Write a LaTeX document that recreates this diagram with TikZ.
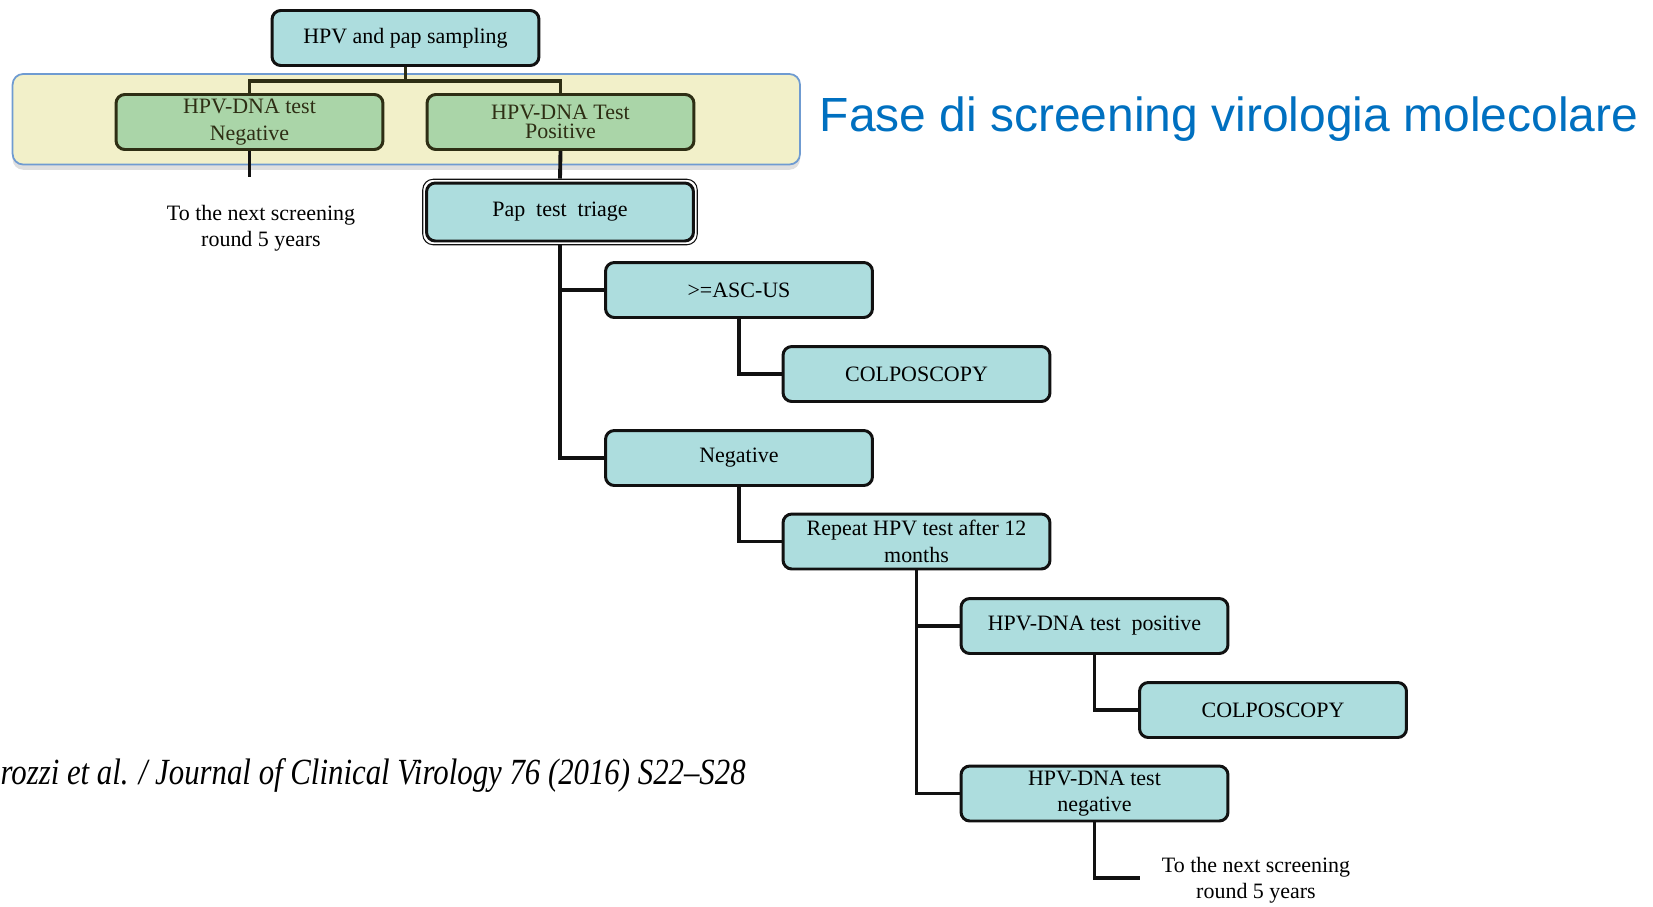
\documentclass[tikz,border=0pt]{standalone}
\usepackage{fontspec}
\setmainfont{Liberation Serif}
\newfontfamily\headfont{Liberation Sans}
\newfontfamily\citefont[FakeStretch=0.835]{Liberation Serif}
\usetikzlibrary{shadows,fit}
\definecolor{ink}{HTML}{111111}
\definecolor{olive}{HTML}{2E2E14}
\definecolor{boxcyan}{HTML}{ADDDDE}
\definecolor{boxgreen}{HTML}{AAD5A8}
\definecolor{panelyellow}{HTML}{F2F0C9}
\definecolor{panelblue}{HTML}{6F9BD1}
\definecolor{titleblue}{HTML}{0070C0}
\tikzset{
  cyanbox/.style={draw=ink,fill=boxcyan,line width=1.7pt,rounded corners=5pt,
                  align=center,inner sep=2pt,minimum width=5.34cm,
                  minimum height=1.1cm,font=\fontsize{12.5}{15}\selectfont},
  greenbox/.style={cyanbox,draw=olive,fill=boxgreen,text=olive},
  panel/.style={draw=panelblue,fill=panelyellow,line width=1pt,
                rounded corners=6pt,
                drop shadow={shadow xshift=0pt,shadow yshift=-3pt,opacity=0.25}},
  tree/.style={line width=2.2pt,draw=ink},
  olivetree/.style={tree,draw=olive},
  note/.style={align=center,font=\fontsize{12.5}{15}\selectfont}
}

\begin{document}
\begin{tikzpicture}[x=0.02cm,y=-0.02cm]
    \useasboundingbox (0,0) rectangle (1653,906);

    % first round: HPV test
    \draw[panel] (12.6,74) rectangle (800,164.5);
    \node[cyanbox] (sampling) at (405.5,38) {HPV and pap sampling};
    \node[greenbox] (dnaneg) at (249.5,122) {HPV-DNA test\\Negative};
    \node[greenbox] (dnapos) at (560.5,122) {HPV-DNA Test\\[-4pt]Positive};
    \draw[olivetree] (sampling.south) -- ++(0,14) -| (dnaneg.north);
    \draw[olivetree] (sampling.south) -- ++(0,14) -| (dnapos.north);

    \coordinate (negend) at (249.5,177);
    \draw[tree] (dnaneg.south) -- (negend);
    \node[note] (nextone) at (261,228) {To the next screening\\round 5 years};

    % triage
    \node[cyanbox,minimum height=1.16cm] (pap) at (560,212) {Pap~ test~ triage};
    \node[fit=(pap),inner sep=1.3pt,draw=ink,line width=0.6pt,
          rounded corners=6pt] (papframe) {};
    \draw[tree] (dnapos.south) -- (papframe.north);

    \node[cyanbox] (ascus) at (739,290) {>=ASC-US};
    \node[cyanbox] (colpoone) at (916.5,374) {COLPOSCOPY};
    \node[cyanbox] (papneg) at (739,458) {Negative};
    \node[cyanbox] (repeat) at (916.5,541.5) {Repeat HPV test after 12\\months};
    \draw[tree] (papframe.south) |- (ascus.west);
    \draw[tree] (papframe.south) |- (papneg.west);
    \draw[tree] (ascus.south) |- (colpoone.west);
    \draw[tree] (papneg.south) |- (repeat.west);

    % second HPV test
    \node[cyanbox] (retestpos) at (1094.5,626) {HPV-DNA test~ positive};
    \node[cyanbox] (colpotwo) at (1273,710) {COLPOSCOPY};
    \node[cyanbox] (retestneg) at (1094.5,793.5) {HPV-DNA test\\negative};
    \draw[tree] (repeat.south) |- (retestpos.west);
    \draw[tree] (repeat.south) |- (retestneg.west);
    \draw[tree] (retestpos.south) |- (colpotwo.west);

    \coordinate (nextend) at (1140,878);
    \draw[tree] (retestneg.south) |- (nextend);
    \node[note] (nexttwo) at (1256,880) {To the next screening\\round 5 years};

    \node[font=\headfont\fontsize{27.3}{32}\selectfont,text=titleblue] (title)
      at (1229,119) {Fase di screening virologia molecolare};
    \node[anchor=east,inner sep=0pt,font=\citefont\itshape\fontsize{21}{24}\selectfont]
      (cite) at (746,775) {rozzi et al. / Journal of Clinical Virology 76 (2016) S22–S28};
\end{tikzpicture}
\end{document}
